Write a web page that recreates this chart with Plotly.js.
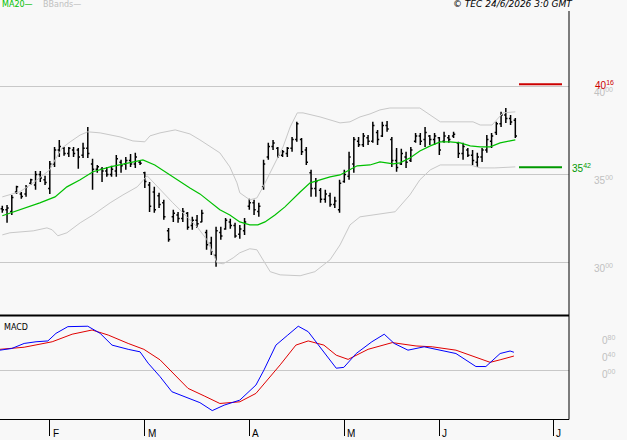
<!DOCTYPE html>
<html><head><meta charset="utf-8">
<script src="https://cdn.plot.ly/plotly-3.0.1.min.js"></script>
<style>html,body{margin:0;padding:0;background:#f8f8f8;}</style>
</head><body><div id="chart" style="width:627px;height:440px;"></div>
<script>
// ---- DATA ----
const openV  = [3305,3300,3290,3400,3390,3390,3450,3440,3500,3470,3420,3560,3640,3650,3620,3640,3640,3610,3650,3560,3530,3530,3520,3500,3520,3570,3560,3580,3560,3570,3510,3440,3400,3380,3340,3180,3260,3270,3250,3280,3210,3240,3230,3170,3110,3040,3170,3190,3230,3210,3160,3180,3320,3340,3290,3430,3600,3660,3650,3610,3620,3650,3700,3700,3640,3510,3420,3410,3360,3380,3330,3300,3460,3490,3560,3690,3670,3710,3690,3740,3720,3780,3700,3580,3560,3600,3580,3690,3720,3700,3720,3700,3710,3690,3710,3720,3680,3620,3640,3610,3570,3600,3640,3690,3740,3790,3840,3820,3810];
const highV  = [3322,3327,3384,3436,3400,3441,3476,3521,3521,3493,3578,3658,3698,3658,3658,3658,3652,3681,3772,3590,3555,3544,3544,3550,3612,3584,3601,3618,3624,3578,3516,3458,3430,3396,3356,3196,3299,3287,3310,3287,3259,3270,3299,3185,3145,3202,3202,3253,3248,3225,3213,3253,3362,3356,3339,3584,3681,3698,3658,3641,3658,3715,3801,3709,3658,3527,3481,3424,3413,3396,3373,3470,3527,3630,3715,3715,3738,3726,3801,3755,3801,3806,3715,3652,3647,3630,3658,3738,3738,3772,3726,3738,3715,3744,3726,3744,3687,3681,3652,3641,3624,3652,3726,3738,3801,3858,3880,3840,3823];
const lowV   = [3282,3225,3270,3390,3362,3373,3441,3413,3458,3441,3390,3544,3601,3607,3601,3601,3533,3595,3595,3413,3510,3458,3487,3487,3487,3510,3527,3544,3538,3555,3424,3287,3282,3310,3242,3117,3230,3225,3230,3185,3185,3196,3228,3071,3042,2974,3128,3185,3191,3139,3134,3156,3299,3270,3259,3413,3584,3641,3595,3601,3601,3630,3687,3612,3555,3373,3373,3339,3339,3316,3310,3282,3453,3470,3510,3658,3658,3669,3681,3669,3715,3744,3544,3516,3555,3538,3572,3681,3669,3658,3669,3669,3612,3681,3681,3709,3595,3584,3601,3555,3544,3572,3624,3652,3726,3772,3795,3783,3709];
const closeV = [3300,3310,3370,3430,3375,3430,3470,3500,3480,3455,3560,3640,3660,3620,3650,3620,3600,3650,3620,3530,3545,3520,3500,3530,3590,3550,3580,3560,3600,3565,3460,3320,3300,3330,3260,3130,3280,3250,3290,3200,3240,3220,3280,3100,3060,3180,3150,3240,3210,3150,3190,3230,3340,3300,3320,3560,3660,3680,3610,3630,3650,3700,3790,3630,3570,3420,3460,3360,3390,3330,3350,3450,3500,3600,3700,3670,3720,3690,3780,3700,3780,3760,3580,3540,3620,3570,3640,3720,3690,3740,3700,3720,3640,3720,3700,3730,3620,3660,3610,3580,3600,3640,3700,3720,3790,3840,3820,3800,3720];

// MA20 and Bollinger bands (bar position, value)
const maPos = [0,3.7,7.9,11.1,13.6,16.4,19.1,22.7,26.9,29.6,32.1,35.3,37.4,39.5,41.6,43.7,45.8,47.9,50.0,52.1,53.8,55.3,57.4,59.5,61.6,62.7,64.8,66.9,69.0,71.1,73.2,74.7,77.4,79.5,82.3,83.7,85.8,87.9,90.1,92.2,94.3,96.4,98.5,100.6,102.7,104.8,106.9,108];
const maVal = [3265,3299,3339,3373,3430,3470,3516,3544,3567,3584,3555,3498,3458,3424,3390,3344,3299,3270,3230,3213,3213,3230,3270,3316,3373,3401,3453,3470,3487,3498,3527,3550,3555,3572,3561,3567,3595,3635,3664,3687,3687,3681,3664,3658,3658,3681,3692,3698];
const upPos = [0,3.7,6.5,10,11.1,12.6,14.3,16.4,18,20.6,24.8,27.5,30,31.1,33.2,36.4,39.5,41.6,45.8,47.9,49.4,50,52.1,53.6,54.9,56.4,57.8,59.1,60.6,62.1,63.3,66.9,71.1,73.2,75.3,77.4,79.5,81.6,87.9,92.2,99.1,100.6,103.1,105.4,108];
const upVal = [3373,3402,3453,3527,3584,3652,3687,3726,3744,3738,3715,3692,3687,3721,3738,3755,3732,3698,3624,3544,3453,3396,3356,3367,3430,3510,3584,3658,3772,3852,3852,3829,3795,3801,3829,3846,3869,3880,3880,3801,3801,3783,3783,3852,3858];
const loPos = [0,1.6,6.5,9.4,10.5,11.7,13.6,16.4,19.1,22.7,25.4,28.4,30.5,33.2,35.9,38.9,41,43.1,44.2,45.2,46.5,48.6,50,52.1,53.6,54.9,56.4,58.5,61.2,62.7,65.8,69,71.1,73.2,75.3,79.5,82.7,85.8,87.9,90.1,92.2,98.5,100.6,103.7,108];
const loVal = [3156,3168,3179,3196,3185,3151,3168,3225,3270,3339,3384,3430,3493,3413,3339,3259,3202,3128,3054,2997,2991,3025,3054,3077,3071,3014,2946,2928,2923,2923,2946,3014,3099,3213,3259,3276,3288,3384,3470,3527,3555,3555,3538,3538,3544];

// MACD panel
const macdPos = [-0.48,2.0,4.6,7.1,9.6,11.3,13.8,18.0,20.6,23.1,26.5,29.0,30.7,33.2,35.7,39.1,41.6,44.2,46.7,50.0,53.4,55.1,57.6,60.1,62.3,64.4,66.9,70.3,71.9,74.5,77.8,80.4,82.5,85.4,88.8,92.1,95.5,99.7,101.8,104.8,106.9,107.7];
const macdVal = [0.48,0.52,0.64,0.68,0.70,0.88,1.04,1.05,0.88,0.60,0.50,0.44,0.17,-0.15,-0.51,-0.67,-0.77,-0.96,-0.83,-0.71,-0.35,0.01,0.60,0.84,1.05,0.92,0.56,0.05,0.07,0.40,0.68,0.86,0.64,0.48,0.56,0.48,0.40,0.09,0.09,0.40,0.46,0.43];
const sigPos = [-0.48,4.6,10.5,14.7,18.9,22.3,26.5,29.8,33.2,35.7,39.1,42.5,45.8,50.0,53.4,58.5,61.8,64.4,67.7,70.3,72.8,77.0,82.1,87.1,90.5,95.5,99.7,102.7,104.8,107.7];
const sigVal = [0.50,0.55,0.68,0.86,0.96,0.84,0.64,0.50,0.25,-0.03,-0.43,-0.61,-0.79,-0.75,-0.55,0.13,0.60,0.70,0.60,0.36,0.26,0.50,0.66,0.58,0.56,0.48,0.32,0.19,0.25,0.34];

// labels and levels
const monthTickPos = [10,30,52,72,92,116];
const monthLabels  = ['F','M','A','M','J','J'];
const priceTicks   = [3000,3500,4000];
const priceTickText= ['30<sup>00</sup>','35<sup>00</sup>','40<sup>00</sup>'];
const macdTicks    = [0,0.4,0.8];
const macdTickText = ['0<sup>00</sup>','0<sup>40</sup>','0<sup>80</sup>'];
const levelValues  = [4016,3542];
const levelText    = ['40<sup>16</sup>','35<sup>42</sup>'];
const levelColors  = ['#cc0000','#009900'];

// ---- CHART ----
const W = 627, H = 440;
const px = v => v / W;
const py = v => 1 - v / H;
const xRight = px(569);
const barIdx = closeV.map((_, i) => i);
const FONT = 'Liberation Sans, Arial, sans-serif';

const traces = [
  {type:'scatter', mode:'lines', x:upPos, y:upVal, line:{color:'#c8c8c8', width:1}, hoverinfo:'skip', xaxis:'x', yaxis:'y'},
  {type:'scatter', mode:'lines', x:loPos, y:loVal, line:{color:'#c8c8c8', width:1}, hoverinfo:'skip', xaxis:'x', yaxis:'y'},
  {type:'scatter', mode:'lines', x:maPos, y:maVal, line:{color:'#00c000', width:1.2}, hoverinfo:'skip', xaxis:'x', yaxis:'y'},
  {type:'ohlc', x:barIdx, open:openV, high:highV, low:lowV, close:closeV,
   increasing:{line:{color:'#000000', width:1.5}}, decreasing:{line:{color:'#000000', width:1.5}},
   tickwidth:0.35, hoverinfo:'skip', xaxis:'x', yaxis:'y'},
  {type:'scatter', mode:'lines', x:sigPos, y:sigVal, line:{color:'#e00000', width:1}, hoverinfo:'skip', xaxis:'x2', yaxis:'y2'},
  {type:'scatter', mode:'lines', x:macdPos, y:macdVal, line:{color:'#0000ff', width:1}, hoverinfo:'skip', xaxis:'x2', yaxis:'y2'}
];

const xr = [-0.484, 119.3];
const shapes = [
  {type:'line', xref:'paper', yref:'paper', x0:0, x1:xRight, y0:py(315.5), y1:py(315.5), line:{color:'#000', width:2}},
  {type:'line', xref:'paper', yref:'paper', x0:0, x1:xRight, y0:py(419.5), y1:py(419.5), line:{color:'#000', width:1}},
  {type:'line', xref:'paper', yref:'paper', x0:xRight, x1:xRight, y0:py(11), y1:py(419.5), line:{color:'#000', width:1}}
];
levelValues.forEach((v, k) => shapes.push({type:'line', xref:'paper', yref:'y', x0:px(519), x1:px(562), y0:v, y1:v, line:{color:levelColors[k], width:2}}));

const annotations = [
  {xref:'paper', yref:'paper', x:0, y:py(5), xanchor:'left', yanchor:'middle', showarrow:false, text:'MA20—', font:{family:'DejaVu Sans', size:8, color:'#00c000'}},
  {xref:'paper', yref:'paper', x:px(41), y:py(5), xanchor:'left', yanchor:'middle', showarrow:false, text:'BBands—', font:{family:'DejaVu Sans', size:8, color:'#c0c0c0'}},
  {xref:'paper', yref:'paper', x:px(575), y:py(4), xanchor:'right', yanchor:'middle', showarrow:false, text:'<i>© TEC 24/6/2026 3:0 GMT</i>', font:{family:'DejaVu Sans', size:9, color:'#000'}},
  {xref:'paper', yref:'paper', x:px(2), y:py(327), xanchor:'left', yanchor:'middle', showarrow:false, text:'MACD', font:{family:'DejaVu Sans', size:8, color:'#000'}}
];
monthLabels.forEach((t, k) => annotations.push({xref:'x2', yref:'paper', x:monthTickPos[k], xshift:1, y:py(433), xanchor:'left', yanchor:'middle', showarrow:false, text:t, font:{family:FONT, size:10, color:'#000'}}));
levelValues.forEach((v, k) => annotations.push({xref:'paper', yref:'y', x:px(k === 0 ? 593 : 570), y:v, yshift:-1, xanchor:'left', yanchor:'middle', showarrow:false, text:levelText[k], font:{family:FONT, size:10, color:levelColors[k]}}));

const layout = {
  width:W, height:H, margin:{l:0, r:0, t:0, b:0, pad:0},
  paper_bgcolor:'#f8f8f8', plot_bgcolor:'#f8f8f8', showlegend:false,
  font:{family:FONT, size:10, color:'#000'},
  xaxis:{domain:[0, xRight], range:xr, anchor:'y', showgrid:false, zeroline:false, showticklabels:false, ticks:'', showline:false, rangeslider:{visible:false}, fixedrange:true},
  yaxis:{domain:[py(315), py(10)], range:[2699, 4439], anchor:'x', side:'right', tickmode:'array', tickvals:priceTicks, ticktext:priceTickText,
         showgrid:true, gridcolor:'#c8c8c8', gridwidth:1, zeroline:false, ticks:'', showline:false,
         tickfont:{family:FONT, size:10, color:'#c0c0c0'}, ticklabelstandoff:24, ticklabelshift:6, fixedrange:true},
  xaxis2:{domain:[0, xRight], range:xr, anchor:'y2', showgrid:false, zeroline:false, showticklabels:false, tickmode:'array', tickvals:monthTickPos,
          ticks:'outside', ticklen:16, tickwidth:1, tickcolor:'#000', showline:false, fixedrange:true},
  yaxis2:{domain:[py(419), py(317)], range:[-1.16, 1.27], anchor:'x2', side:'right', tickmode:'array', tickvals:macdTicks, ticktext:macdTickText,
          showgrid:false, zeroline:true, zerolinecolor:'#c8c8c8', zerolinewidth:1, ticks:'', showline:false,
          tickfont:{family:FONT, size:10, color:'#c0c0c0'}, ticklabelstandoff:32, ticklabelshift:4, fixedrange:true},
  shapes:shapes, annotations:annotations
};

Plotly.newPlot('chart', traces, layout, {staticPlot:true, displayModeBar:false});
</script></body></html>
